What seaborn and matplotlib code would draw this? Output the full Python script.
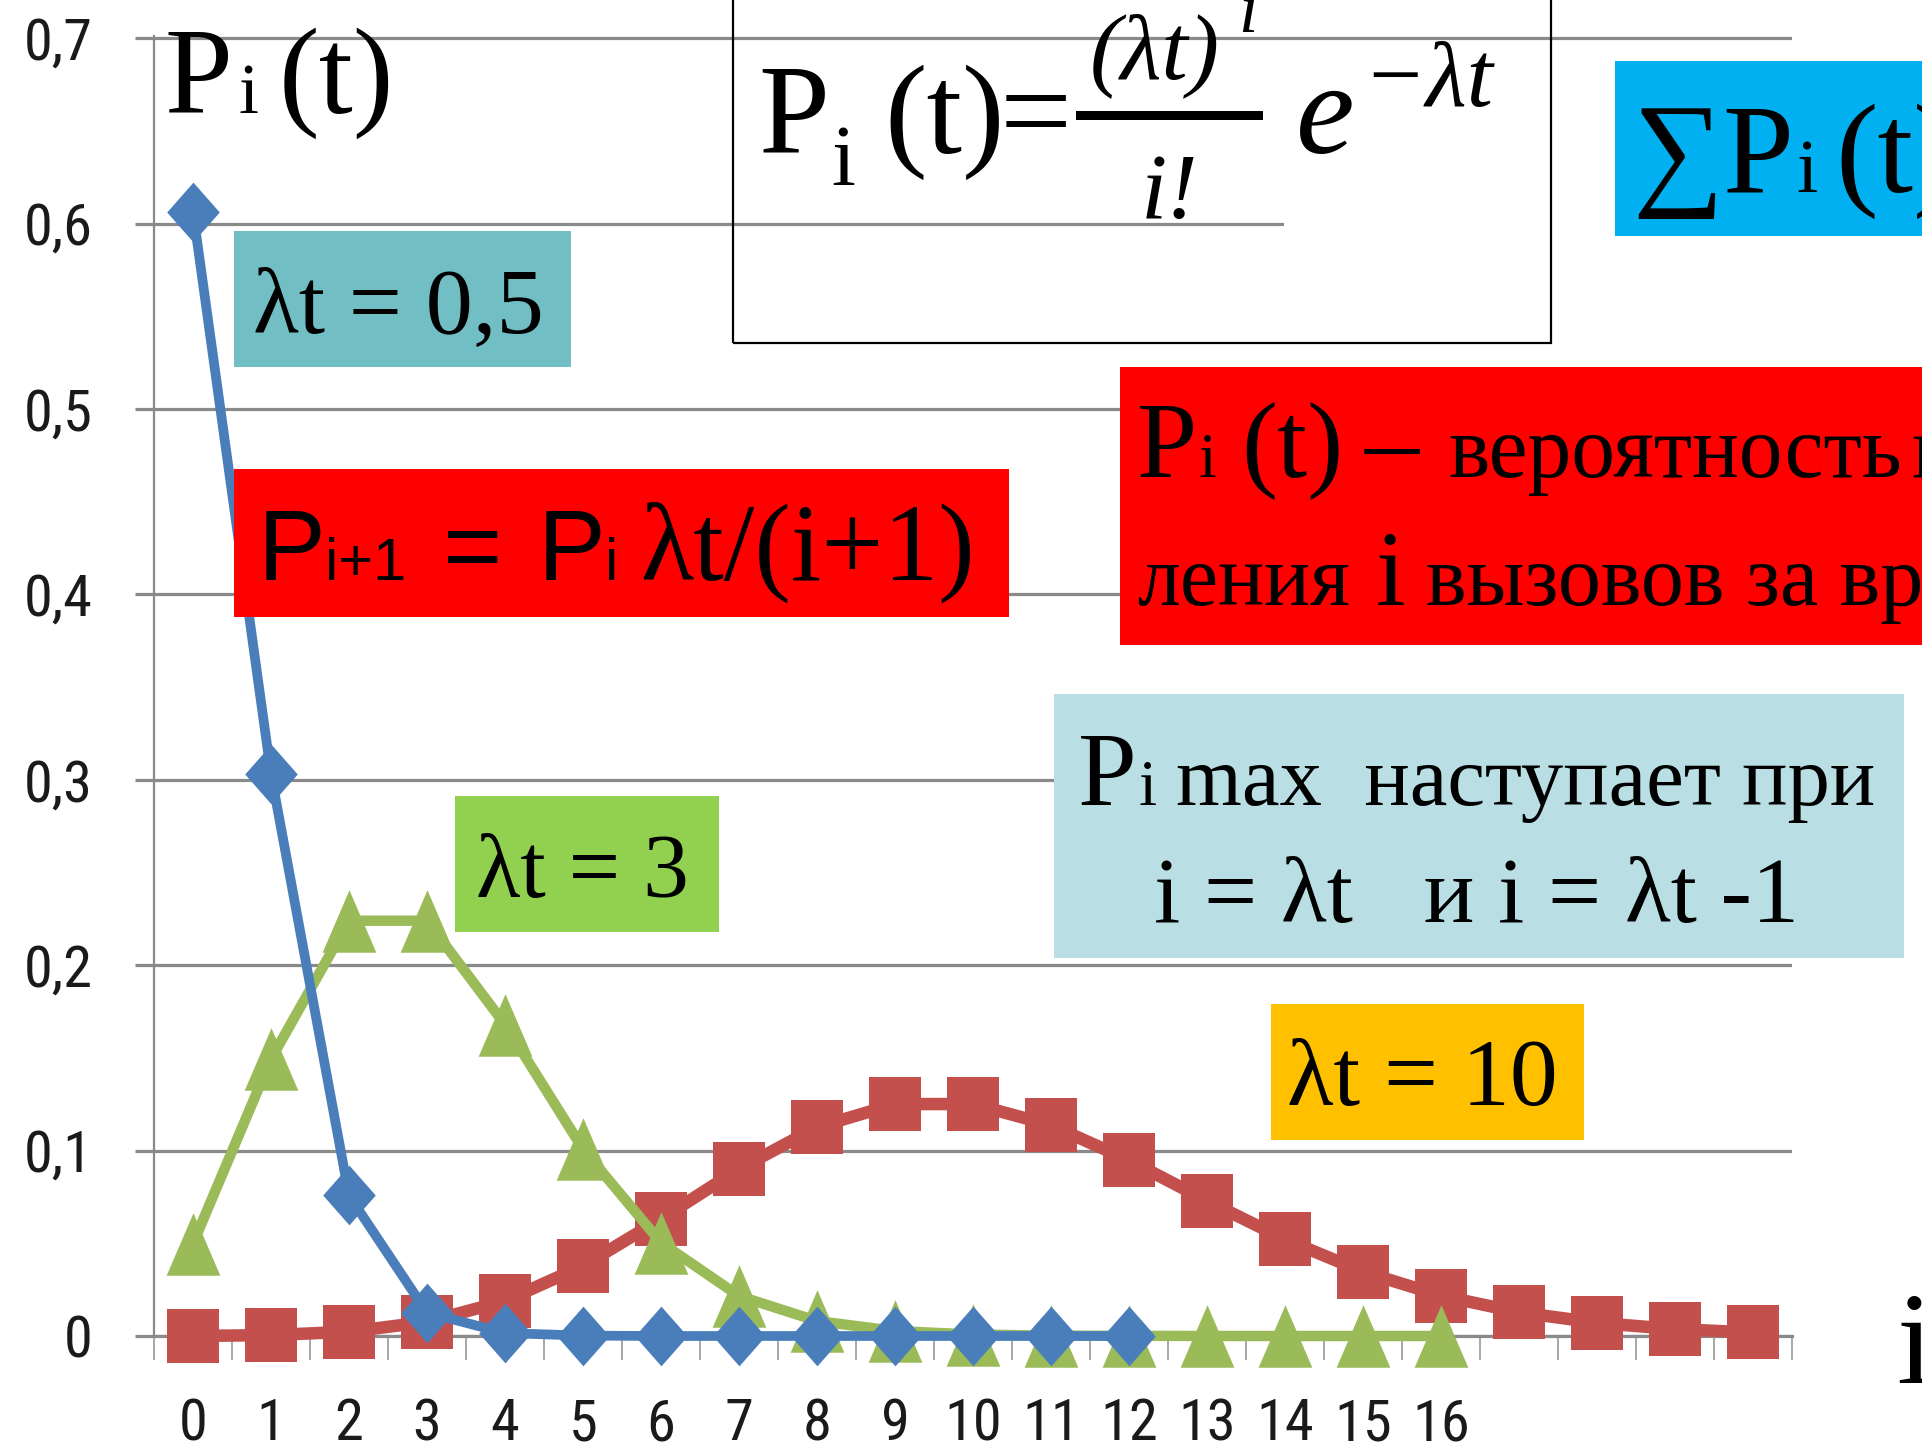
import numpy as np
import pandas as pd
import matplotlib
matplotlib.use("Agg")
import matplotlib.pyplot as plt
import seaborn as sns
from matplotlib import font_manager as fm
from matplotlib.patches import Rectangle
from matplotlib.path import Path

# ---------------- data ----------------
i_blue = [0, 1, 2, 3, 4, 5, 6, 7, 8, 9, 10, 11, 12]
p_blue = [0.6065, 0.3033, 0.0758, 0.0126, 0.0016, 0.0002, 0.0, 0.0, 0.0, 0.0, 0.0, 0.0, 0.0]

i_green = [0, 1, 2, 3, 4, 5, 6, 7, 8, 9, 10, 11, 12, 13, 14, 15, 16]
p_green = [0.0498, 0.1494, 0.2240, 0.2240, 0.1680, 0.1008, 0.0504, 0.0216, 0.0081,
           0.0027, 0.0008, 0.0002, 0.0001, 0.0, 0.0, 0.0, 0.0]

i_red = [0, 1, 2, 3, 4, 5, 6, 7, 8, 9, 10, 11, 12, 13, 14, 15, 16, 17, 18, 19, 20]
p_red = [0.0000, 0.0005, 0.0023, 0.0076, 0.0189, 0.0378, 0.0631, 0.0901, 0.1126,
         0.1251, 0.1251, 0.1137, 0.0948, 0.0729, 0.0521, 0.0347, 0.0217, 0.0128,
         0.0071, 0.0037, 0.0019]

x_tick_pos = [0, 1, 2, 3, 4, 5, 6, 7, 8, 9, 10, 11, 12, 13, 14, 15, 16]
x_tick_labels = ["0", "1", "2", "3", "4", "5", "6", "7", "8", "9", "10", "11",
                 "12", "13", "14", "15", "16"]
y_tick_pos = [0.0, 0.1, 0.2, 0.3, 0.4, 0.5, 0.6, 0.7]
y_tick_labels = ["0", "0,1", "0,2", "0,3", "0,4", "0,5", "0,6", "0,7"]

# ---------------- style ----------------
sns.set_style("white")
SERIF = ["Liberation Serif", "DejaVu Serif"]
SANS = ["Liberation Sans", "DejaVu Sans"]
plt.rcParams["font.family"] = SERIF
plt.rcParams["mathtext.fontset"] = "stix"


def has_font(name):
    try:
        fm.findfont(fm.FontProperties(family=name), fallback_to_default=False)
        return True
    except Exception:
        return False


if has_font("Liberation Sans Narrow"):
    TICK_FAMILY, TICK_SIZE = ["Liberation Sans Narrow", "DejaVu Sans"], 43
elif has_font("Roboto Condensed"):
    TICK_FAMILY, TICK_SIZE = ["Roboto Condensed", "DejaVu Sans"], 42
else:
    TICK_FAMILY, TICK_SIZE = ["Liberation Sans", "DejaVu Sans"], 40

W, H = 1922, 1456
fig = plt.figure(figsize=(W / 100, H / 100), dpi=100)
fig.patch.set_facecolor("white")

x_left, x_right, y_top, y_bot = 154, 1792, 36, 1336
ax = fig.add_axes([x_left / W, 1 - y_bot / H, (x_right - x_left) / W, (y_bot - y_top) / H])
ax.set_facecolor("white")

GRID = "#8a8a8a"

blue, green, red = "#4A7EBB", "#9BBB59", "#C3504D"


def marker_path(verts):
    return Path(np.array(verts, dtype=float), closed=True)


diamond = marker_path([(0, 0.5), (0.44, 0), (0, -0.5), (-0.44, 0), (0, 0.5)])
triangle = marker_path([(0, 0.5), (0.43, -0.5), (-0.43, -0.5), (0, 0.5)])
square = marker_path([(-0.48, -0.5), (0.48, -0.5), (0.48, 0.5), (-0.48, 0.5), (-0.48, -0.5)])

series = [
    (i_red, p_red, red, square, 39, 9.0, 3),
    (i_green, p_green, green, triangle, 45, 7.5, 4),
    (i_blue, p_blue, blue, diamond, 43, 7.0, 5),
]
for xs, ys, col, mk, ms, lw, z in series:
    sns.lineplot(x=xs, y=ys, ax=ax, color=col, marker=mk, markersize=ms,
                 markeredgewidth=0, linewidth=lw, zorder=z, clip_on=False,
                 legend=False, errorbar=None, sort=False)

ax.set_xlim(-0.5, 20.5)
ax.set_ylim(0, 0.7012)
ax.set_xlabel("")
ax.set_ylabel("")

ax.set_yticks(y_tick_pos)
ax.set_yticklabels(y_tick_labels, family=TICK_FAMILY, fontsize=TICK_SIZE, color="#1a1a1a")
ax.set_xticks(x_tick_pos)
ax.set_xticklabels(x_tick_labels, family=TICK_FAMILY, fontsize=TICK_SIZE, color="#1a1a1a")
ax.set_xticks(np.arange(-0.5, 21.0, 1.0), minor=True)

ax.yaxis.grid(True, color=GRID, linewidth=2.3)
ax.xaxis.grid(False)
ax.set_axisbelow(True)
ax.tick_params(axis="y", which="major", length=14, width=2.3, color=GRID,
               direction="out", pad=30, left=True)
ax.tick_params(axis="x", which="major", length=0, pad=44, bottom=True)
ax.tick_params(axis="x", which="minor", length=17, width=1.2, color="#9a9a9a",
               direction="out", bottom=True)
for s in ["top", "right"]:
    ax.spines[s].set_visible(False)
ax.spines["left"].set_color(GRID)
ax.spines["left"].set_linewidth(1.6)
ax.spines["bottom"].set_color(GRID)
ax.spines["bottom"].set_linewidth(2.3)


# ---------------- overlays (figure pixel coordinates) ----------------
def fx(x):
    return x / W


def fy(y):
    return 1 - y / H


def box(x0, y0, x1, y1, color, z=2, **kw):
    r = Rectangle((fx(x0), fy(y1)), (x1 - x0) / W, (y1 - y0) / H,
                  transform=fig.transFigure, facecolor=color, edgecolor="none",
                  zorder=z, clip_on=False, **kw)
    fig.add_artist(r)


def txt(x, y, s, size, family=SERIF, ha="left", style="normal"):
    fig.text(fx(x), fy(y), s, fontsize=size, family=family, ha=ha,
             va="baseline", color="black", zorder=6, style=style)


# white patch hiding part of the 0.6 gridline
box(1284, 204, 1800, 240, "white", z=1.5)

# P_i(t) axis title
txt(165, 113, "P", 88)
txt(238, 113, "i", 52)
txt(279, 113, "(t)", 88)

# lambda t = 0,5
box(234, 231, 571, 367, "#72BEC5")
txt(398, 332, "λt = 0,5", 68, ha="center")

# P_{i+1} = P_i lambda t/(i+1)
box(234, 469, 1009, 617, "#FF0000")
txt(258, 580, "P", 73, SANS)
txt(325, 580, "i+1", 43, SANS)
txt(443, 580, "=", 73, SANS)
txt(538, 580, "P", 73, SANS)
txt(605, 580, "i", 43, SANS)
txt(640, 580, "λt/(i+1)", 79)

# formula box
fig.add_artist(Rectangle((fx(733), fy(343)), (1551 - 733) / W, (343 + 20) / H,
                         transform=fig.transFigure, facecolor="none",
                         edgecolor="black", linewidth=1.6, zorder=2, clip_on=False))
txt(758, 153, "P", 92)
txt(831, 185, "i", 62)
txt(884, 153, "(t)", 92)
txt(1000, 153, "=", 92)
box(1076, 111, 1263, 120, "black", z=3)            # fraction bar
txt(1155, 78, "(λt)", 68, ha="center", style="italic")
txt(1238, 32, "i", 50, style="italic")
txt(1170, 218, "i!", 68, ha="center", style="italic")
txt(1296, 153, "e", 95, style="italic")
txt(1362, 106, "−λt", 68, style="italic")

# sum P_i(t)
box(1615, 61, 1940, 236, "#00B0F0")
txt(1632, 192, "∑", 92)
txt(1722, 192, "P", 92)
txt(1796, 192, "i", 55)
txt(1835, 192, "(t)", 92)

# red definition box
box(1120, 367, 1940, 645, "#FF0000")
txt(1137, 477, "P", 78)
txt(1199, 477, "i", 46)
txt(1241, 477, "(t)", 78)
txt(1365, 477, "–", 78)
txt(1448, 477, "вероятность", 63)
txt(1911, 477, "п", 63)
txt(1137, 605, "ления", 62)
txt(1376, 605, "i", 77)
txt(1426, 605, "вызовов за вр", 62)

# P_i max box
box(1054, 694, 1904, 958, "#B9DFE4")
txt(1078, 805, "P", 76)
txt(1139, 805, "i", 47)
txt(1176, 805, "max  наступает при", 61)
txt(1476, 922, "i = λt   и i = λt -1", 68, ha="center")

# lambda t = 3
box(455, 796, 719, 932, "#92D050")
txt(582, 897, "λt = 3", 66, ha="center")

# lambda t = 10
box(1271, 1004, 1584, 1140, "#FFC000")
txt(1422, 1105, "λt = 10", 69, ha="center")

# x axis name
txt(1896, 1383, "i", 95)

fig.savefig("out.png", dpi=100, facecolor="white")
